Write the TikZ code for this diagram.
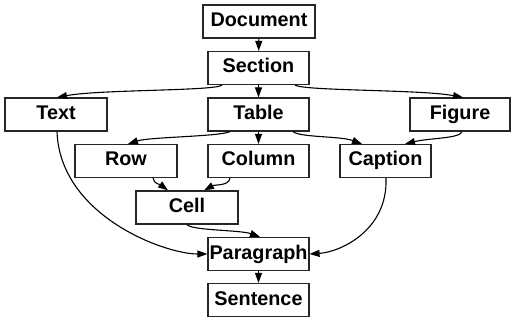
\documentclass[tikz,border=0pt]{standalone}
\usepackage{fontspec}
\setmainfont{Liberation Sans}
\usetikzlibrary{arrows.meta}
\begin{document}
\begin{tikzpicture}[x=1pt,y=-1pt,
  box/.style={draw=black!85,line width=1.2pt,inner sep=0pt,minimum height=33pt,
    text height=14pt,text depth=4pt,
    font=\fontsize{19.8}{23}\selectfont\bfseries},
  edge/.style={line width=1.1pt,-{Triangle[length=10pt,width=7pt]}}]
\useasboundingbox (0,0) rectangle (511,320);
\node[box,minimum width=112pt] (doc) at (259,21.5) {Document};
\node[box,minimum width=101pt] (sec) at (258.5,68) {Section};
\node[box,minimum width=102pt] (text) at (56,114.5) {Text};
\node[box,minimum width=101pt] (tab) at (258.5,114.5) {Table};
\node[box,minimum width=100pt] (fig) at (460,114.5) {Figure};
\node[box,minimum width=102pt] (row) at (126,161) {Row};
\node[box,minimum width=101pt] (col) at (258.5,161) {Column};
\node[box,minimum width=91pt] (cap) at (385.5,161) {Caption};
\node[box,minimum width=102pt] (cell) at (187,207.5) {Cell};
\node[box,minimum width=101pt] (para) at (258.5,254) {Paragraph};
\node[box,minimum width=101pt] (sent) at (258.5,300) {Sentence};

\draw[edge] (doc) -- (sec);
\draw[edge] ([xshift=-36.5pt]sec.south) .. controls +(-7,6) and +(43,-8) .. ([xshift=1pt]text.north);
\draw[edge] (sec) -- (tab);
\draw[edge] ([xshift=36.5pt]sec.south) .. controls +(10,6) and +(-43,-8) .. ([xshift=3pt]fig.north);
\draw[edge] ([xshift=-28.5pt]tab.south) .. controls +(-10,5) and +(22,-7) .. ([xshift=2pt]row.north);
\draw[edge] (tab) -- (col);
\draw[edge] ([xshift=34.5pt]tab.south) .. controls +(7,6) and +(-22,-8) .. ([xshift=-23.5pt]cap.north);
\draw[edge] ([xshift=2pt]fig.south) .. controls +(-2,7) and +(25,-6) .. ([xshift=19.5pt]cap.north);
\draw[edge] ([xshift=27pt]row.south) .. controls +(1,6) and +(-8,-6) .. ([xshift=-19pt]cell.north);
\draw[edge] ([xshift=-28.5pt]col.south) .. controls +(-1,8) and +(11,-6) .. ([xshift=17pt]cell.north);
\draw[edge] (cell.south) .. controls +(5,6) and +(-20,-7) .. ([xshift=1.5pt]para.north);
\draw[edge] ([xshift=1pt]text.south) .. controls +(3,84) and +(-43,0) .. (para.west);
\draw[edge] ([xshift=0.5pt]cap.south) .. controls +(2,52) and +(31,-2) .. (para.east);
\draw[edge] (para) -- (sent);
\end{tikzpicture}
\end{document}
